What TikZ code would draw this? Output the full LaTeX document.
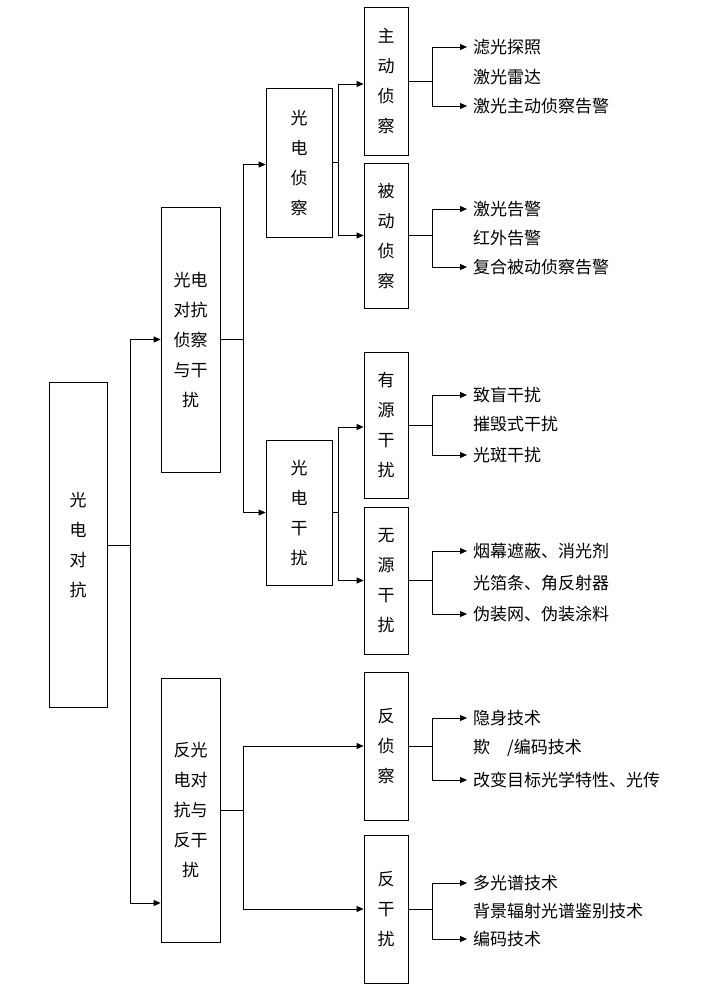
\documentclass[tikz,border=0pt]{standalone}
\usepackage{fontspec}
\newfontfamily\cjk{Noto Sans CJK SC}
\usetikzlibrary{positioning}
\usetikzlibrary{arrows.meta}
\tikzset{
  box/.style={draw, thick, align=center, inner sep=0pt, font=\cjk\fontsize{17}{30}\selectfont},
  item/.style={anchor=west, inner sep=0pt, font=\cjk\fontsize{17}{20}\selectfont},
  link/.style={thick, -{Triangle[length=7pt,width=6pt]}}
}
\begin{document}
\begin{tikzpicture}[x=1pt,y=-1pt]
  \useasboundingbox (0,0) rectangle (726,1001);
  % boxes
  \node[box, minimum width=58, minimum height=325] (root) at (78,545) {光\\电\\对\\抗};
  \node[box, minimum width=59, minimum height=265] (zc) at (190.5,339.5) {光电\\对抗\\侦察\\与干\\扰};
  \node[box, minimum width=59, minimum height=264] (fz) at (190.5,810) {反光\\电对\\抗与\\反干\\扰};
  \node[box, minimum width=66, minimum height=149] (gz) at (299,162.5) {光\\电\\侦\\察};
  \node[box, minimum width=66, minimum height=145] (gg) at (299,512.5) {光\\电\\干\\扰};
  \node[box, minimum width=44, minimum height=148] (zd) at (386,81) {主\\动\\侦\\察};
  \node[box, minimum width=44, minimum height=145] (bd) at (386,235.5) {被\\动\\侦\\察};
  \node[box, minimum width=44, minimum height=146] (yy) at (386,425) {有\\源\\干\\扰};
  \node[box, minimum width=44, minimum height=147] (wy) at (386,580.5) {无\\源\\干\\扰};
  \node[box, minimum width=44, minimum height=148] (fzc) at (386,746) {反\\侦\\察};
  \node[box, minimum width=44, minimum height=148] (fgr) at (386,909) {反\\干\\扰};

  % tree links
  \draw[thick] (root.east) -- ++(23,0) coordinate (j0);
  \draw[link] (j0) |- (zc.west);
  \draw[link] (j0) |- ([yshift=-93]fz.west);
  \draw[thick] (zc.east) -- ++(23,0) coordinate (j1);
  \draw[link] (j1) |- ([yshift=-2]gz.west);
  \draw[link] (j1) |- (gg.west);
  \draw[thick] (gz.east) -- ++(6,0) coordinate (j2);
  \draw[link] (j2) |- ([yshift=-3]zd.west);
  \draw[link] (j2) |- (bd.west);
  \draw[thick] (gg.east) -- ++(6,0) coordinate (j3);
  \draw[link] (j3) |- ([yshift=-2]yy.west);
  \draw[link] (j3) |- (wy.west);
  \draw[thick] (fz.east) -- ++(23,0) coordinate (j4);
  \draw[link] (j4) |- (fzc.west);
  \draw[link] (j4) |- (fgr.west);

  % leaf items
  \foreach \b/\ya/\yb/\yc/\ta/\tb/\tc in {
    zd/47/77/106/滤光探照/激光雷达/激光主动侦察告警,
    bd/209/238/267/激光告警/红外告警/复合被动侦察告警,
    yy/395/424/455/致盲干扰/摧毁式干扰/光斑干扰,
    wy/551/583/614/烟幕遮蔽、消光剂/光箔条、角反射器/伪装网、伪装涂料,
    fzc/718/748/780/隐身技术/{欺\hspace{1em}/编码技术}/改变目标光学特性、光传,
    fgr/883/911/939/多光谱技术/背景辐射光谱鉴别技术/编码技术} {
    \node[item] (\b a) at (473,\ya) {\ta};
    \node[item] (\b b) at (473,\yb) {\tb};
    \node[item] (\b c) at (473,\yc) {\tc};
    \draw[thick] (\b.east) -- ++(24,0) coordinate (\b j);
    \draw[link] (\b j) |- ([xshift=-6]\b a.west);
    \draw[link] (\b j) |- ([xshift=-6]\b c.west);
  }
\end{tikzpicture}
\end{document}
